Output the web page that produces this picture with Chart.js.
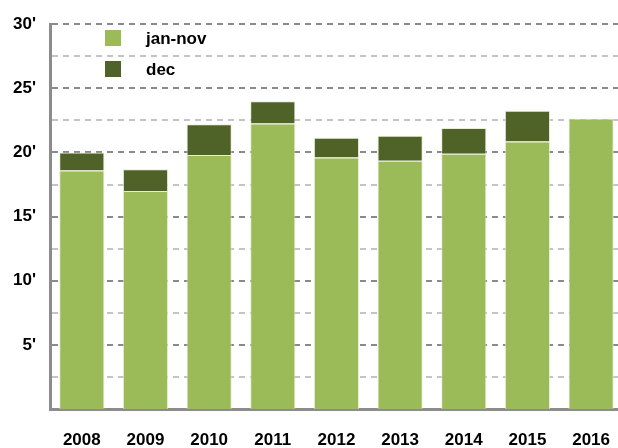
<!DOCTYPE html>
<html lang="en">
<head>
  <meta charset="UTF-8" />
  <title>jan-nov / dec</title>
  <script src="https://cdn.jsdelivr.net/npm/chart.js"></script>
  <style>
    html, body {
      margin: 0;
      padding: 0;
      background: #fff;
      overflow: hidden;
    }
    canvas { display: block; }
  </style>
</head>
<body>
  <canvas id="salesChart" width="631" height="448"></canvas>

  <script>
    // Data
    const years = ['2008', '2009', '2010', '2011', '2012', '2013', '2014', '2015', '2016'];
    const janNov = [18.6, 17.0, 19.8, 22.25, 19.6, 19.35, 19.9, 20.85, 22.65];
    const dec = [1.4, 1.7, 2.4, 1.75, 1.55, 1.95, 2.0, 2.4, 0];
    const seriesNames = ['jan-nov', 'dec'];

    const LIGHT = '#9bbb59';
    const DARK = '#4f6228';
    const FONT = "'Liberation Sans', Arial, sans-serif";

    // Legend drawn inside the plot, top-left
    const innerLegend = {
      id: 'innerLegend',
      afterDraw(chart) {
        const ctx = chart.ctx;
        const rows = [38, 69];
        ctx.save();
        chart.data.datasets.forEach((ds, i) => {
          const y = rows[i];
          ctx.fillStyle = ds.backgroundColor;
          ctx.fillRect(105, y - 8, 16, 16);
          ctx.fillStyle = '#000';
          ctx.font = 'bold 17px ' + FONT;
          ctx.textAlign = 'left';
          ctx.textBaseline = 'middle';
          ctx.fillText(ds.label, 146, y + 1);
        });
        ctx.restore();
      }
    };

    new Chart(document.getElementById('salesChart'), {
      type: 'bar',
      data: {
        labels: years,
        datasets: [
          {
            label: seriesNames[0],
            data: janNov,
            backgroundColor: LIGHT,
            borderColor: 'rgba(225,234,206,0.8)',
            borderWidth: 1,
            borderSkipped: 'bottom'
          },
          {
            label: seriesNames[1],
            data: dec,
            backgroundColor: DARK,
            borderColor: 'rgba(225,234,206,0.8)',
            borderWidth: 1,
            borderSkipped: 'bottom'
          }
        ]
      },
      options: {
        responsive: false,
        animation: false,
        layout: { padding: { top: 22, right: 0, left: 0, bottom: 0 } },
        datasets: {
          bar: { barPercentage: 0.71, categoryPercentage: 1 }
        },
        plugins: {
          legend: { display: false },
          tooltip: { enabled: false }
        },
        scales: {
          x: {
            stacked: true,
            grid: { display: false, drawTicks: false },
            border: { color: '#8c8c8c', width: 3 },
            ticks: {
              color: '#000',
              padding: 21,
              maxRotation: 0,
              font: { family: FONT, size: 17, weight: 'bold' }
            },
            afterFit: scale => { scale.height = 39; }
          },
          y: {
            stacked: true,
            min: 0,
            max: 30,
            grid: {
              drawTicks: false,
              color: ctx => (ctx.tick && ctx.tick.value % 5 === 0) ? '#8a8a8a' : '#c4c4c4',
              lineWidth: ctx => (ctx.tick && ctx.tick.value === 0) ? 0 : 2
            },
            border: { color: '#8c8c8c', width: 3, dash: [6, 5] },
            ticks: {
              stepSize: 2.5,
              color: '#000',
              padding: 14,
              font: { family: FONT, size: 17, weight: 'bold' },
              callback: v => (v > 0 && v % 5 === 0) ? v + "'" : ''
            },
            afterFit: scale => { scale.width = 50; }
          }
        }
      },
      plugins: [innerLegend]
    });
  </script>
</body>
</html>
